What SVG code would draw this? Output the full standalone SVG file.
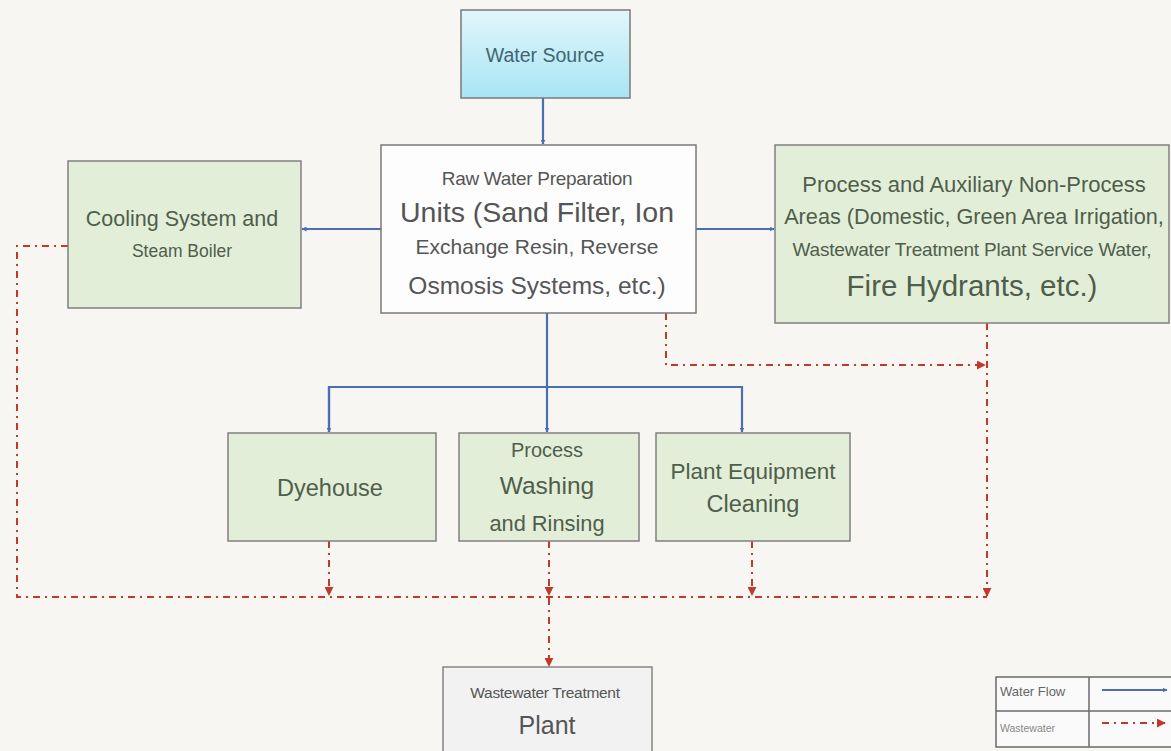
<svg xmlns="http://www.w3.org/2000/svg" width="1171" height="751" viewBox="0 0 1171 751">
<defs>
<linearGradient id="ws" x1="0" y1="0" x2="0" y2="1">
<stop offset="0" stop-color="#e2f6fb"/>
<stop offset="1" stop-color="#a8e4f4"/>
</linearGradient>
<marker id="ab" viewBox="0 0 10 10" refX="9" refY="5" markerWidth="5" markerHeight="5" orient="auto" markerUnits="userSpaceOnUse">
<path d="M0,0 L10,5 L0,10 z" fill="#4a6fb3"/>
</marker>
<marker id="ar" viewBox="0 0 10 10" refX="9" refY="5" markerWidth="9" markerHeight="9" orient="auto" markerUnits="userSpaceOnUse">
<path d="M0,0 L10,5 L0,10 z" fill="#c0392b"/>
</marker>
<style>
.t{font-family:"Liberation Sans",Arial,sans-serif;text-anchor:middle}
.g{fill:#e3eed8;stroke:#808080;stroke-width:1.5}
.gt{fill:#4f5e4c}
.bl{fill:none;stroke:#4a6fb3;stroke-width:2.2}
.rd{fill:none;stroke:#c0392b;stroke-width:2;stroke-dasharray:7 5 2 5}
</style>
</defs>
<rect width="1171" height="751" fill="#f8f6f2"/>

<g id="connectors">
<line class="bl" x1="543" y1="98" x2="543" y2="144" marker-end="url(#ab)"/>
<line class="bl" x1="381" y1="229" x2="302" y2="229" marker-end="url(#ab)"/>
<line class="bl" x1="696" y1="229" x2="774" y2="229" marker-end="url(#ab)"/>
<line class="bl" x1="547" y1="313" x2="547" y2="387"/>
<polyline class="bl" points="329,432 329,387 742,387 742,432" marker-end="url(#ab)"/>
<line class="bl" x1="329" y1="387" x2="329" y2="432" marker-end="url(#ab)"/>
<line class="bl" x1="547" y1="387" x2="547" y2="432" marker-end="url(#ab)"/>

<path class="rd" d="M68,246 H17 V597 H987"/>
<path class="rd" d="M666,313 V365 H985" marker-end="url(#ar)"/>
<path class="rd" d="M987,323 V596" marker-end="url(#ar)"/>
<path class="rd" d="M329,541 V595" marker-end="url(#ar)"/>
<path class="rd" d="M549,541 V595" marker-end="url(#ar)"/>
<path class="rd" d="M752,541 V595" marker-end="url(#ar)"/>
<path class="rd" d="M549,598 V666" marker-end="url(#ar)"/>
</g>

<g id="water-source">
<rect x="461" y="10" width="169" height="88" fill="url(#ws)" stroke="#7a7a7a" stroke-width="1.5"/>
<text class="t" x="545" y="62" font-size="19.5" fill="#3e6672">Water Source</text>
</g>

<g id="raw-water">
<rect x="381" y="145" width="315" height="168" fill="#fdfdfd" stroke="#7a7a7a" stroke-width="1.5"/>
<text class="t" x="537" y="185" font-size="19" fill="#555" letter-spacing="-0.3">Raw Water Preparation</text>
<text class="t" x="537" y="222" font-size="28.5" fill="#555">Units (Sand Filter, Ion</text>
<text class="t" x="537" y="254" font-size="21" fill="#555">Exchange Resin, Reverse</text>
<text class="t" x="537" y="294" font-size="24.5" fill="#555">Osmosis Systems, etc.)</text>
</g>

<g id="cooling">
<rect class="g" x="68" y="161" width="233" height="147"/>
<text class="t gt" x="182" y="226" font-size="21.5">Cooling System and</text>
<text class="t gt" x="182" y="257" font-size="17.5">Steam Boiler</text>
</g>

<g id="aux">
<rect class="g" x="775" y="145" width="394" height="178"/>
<text class="t gt" x="974" y="192" font-size="22">Process and Auxiliary Non-Process</text>
<text class="t gt" x="974" y="224" font-size="21.7">Areas (Domestic, Green Area Irrigation,</text>
<text class="t gt" x="972" y="256" font-size="19" letter-spacing="-0.2">Wastewater Treatment Plant Service Water,</text>
<text class="t gt" x="972" y="296" font-size="29.5">Fire Hydrants, etc.)</text>
</g>

<g id="dyehouse">
<rect class="g" x="228" y="433" width="208" height="108"/>
<text class="t gt" x="330" y="496" font-size="23.5">Dyehouse</text>
</g>

<g id="washing">
<rect class="g" x="459" y="433" width="180" height="108"/>
<text class="t gt" x="547" y="457" font-size="20">Process</text>
<text class="t gt" x="547" y="494" font-size="24.5">Washing</text>
<text class="t gt" x="547" y="531" font-size="21.8">and Rinsing</text>
</g>

<g id="cleaning">
<rect class="g" x="656" y="433" width="194" height="108"/>
<text class="t gt" x="753" y="479" font-size="22.5">Plant Equipment</text>
<text class="t gt" x="753" y="512" font-size="23.5">Cleaning</text>
</g>

<g id="wwtp">
<rect x="443" y="667" width="209" height="95" fill="#f2f2f2" stroke="#858585" stroke-width="1.5"/>
<text class="t" x="545" y="698" font-size="15.5" fill="#555" letter-spacing="-0.3">Wastewater Treatment</text>
<text class="t" x="547" y="734" font-size="25" fill="#555">Plant</text>
</g>

<g id="legend">
<rect x="996" y="677" width="180" height="70" fill="#fafafa" stroke="#6a6a6a" stroke-width="1.5"/>
<line x1="1089" y1="677" x2="1089" y2="747" stroke="#6a6a6a" stroke-width="1.5"/>
<line x1="996" y1="711" x2="1176" y2="711" stroke="#6a6a6a" stroke-width="1.5"/>
<text x="1000" y="696" font-family="Liberation Sans,Arial,sans-serif" font-size="13" fill="#666">Water Flow</text>
<text x="1000" y="732" font-family="Liberation Sans,Arial,sans-serif" font-size="10.5" fill="#888">Wastewater</text>
<line class="bl" x1="1102" y1="690" x2="1167" y2="690" stroke-width="1.8" marker-end="url(#ab)"/>
<line class="rd" x1="1102" y1="723" x2="1165" y2="723" marker-end="url(#ar)"/>
</g>
</svg>
